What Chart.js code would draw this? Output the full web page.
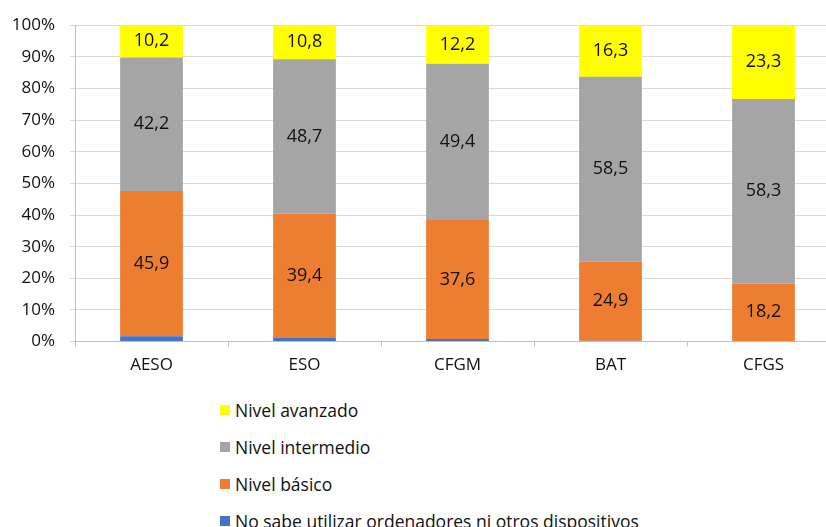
<!DOCTYPE html>
<html lang="es">
<head>
<meta charset="UTF-8">
<title>Nivel de uso de ordenadores</title>
<script src="https://cdn.jsdelivr.net/npm/chart.js@4/dist/chart.umd.min.js"></script>
<style>
  html, body { margin: 0; padding: 0; background: #fff; overflow: hidden; }
  #wrap { position: relative; width: 840px; height: 383px; }
  #legend { position: absolute; left: 220px; top: 400px; font-family: "Open Sans", sans-serif; font-size: 17.5px; color: #111; }
  #legend div { display: flex; align-items: center; height: 20px; margin-bottom: 17px; white-space: nowrap; }
  #legend span.box { display: inline-block; width: 10px; height: 10px; margin-right: 5px; }
</style>
</head>
<body>
<div id="wrap"><canvas id="chart"></canvas></div>
<div id="legend"></div>
<script>
var categories = ['AESO', 'ESO', 'CFGM', 'BAT', 'CFGS'];
var noSabe = [1.7, 1.1, 0.8, 0.3, 0.2];
var basico = [45.9, 39.4, 37.6, 24.9, 18.2];
var intermedio = [42.2, 48.7, 49.4, 58.5, 58.3];
var avanzado = [10.2, 10.8, 12.2, 16.3, 23.3];
var yTicks = [0, 10, 20, 30, 40, 50, 60, 70, 80, 90, 100];

var labelFont = '"Open Sans", sans-serif';

// draws the value inside each bar (except the tiny blue one)
var barLabels = {
  id: 'barLabels',
  afterDatasetsDraw: function(chart) {
    var ctx = chart.ctx;
    ctx.save();
    ctx.font = '18px ' + labelFont;
    ctx.fillStyle = '#111';
    ctx.textAlign = 'center';
    ctx.textBaseline = 'middle';
    chart.data.datasets.forEach(function(ds, i) {
      if (!ds.showLabels) return;
      chart.getDatasetMeta(i).data.forEach(function(bar, j) {
        var y = (bar.y + bar.base) / 2;
        ctx.fillText(ds.data[j].toFixed(1).replace('.', ','), bar.x, y);
      });
    });
    ctx.restore();
  }
};

var chart = new Chart(document.getElementById('chart'), {
  type: 'bar',
  data: {
    labels: categories,
    datasets: [
      { label: 'No sabe utilizar ordenadores ni otros dispositivos', data: noSabe, backgroundColor: '#4472C4', showLabels: false },
      { label: 'Nivel básico', data: basico, backgroundColor: '#ED7D31', showLabels: true },
      { label: 'Nivel intermedio', data: intermedio, backgroundColor: '#A5A5A5', showLabels: true },
      { label: 'Nivel avanzado', data: avanzado, backgroundColor: '#FFFF00', showLabels: true }
    ]
  },
  options: {
    responsive: true,
    maintainAspectRatio: false,
    animation: false,
    layout: { padding: { top: 23, right: 0, left: 0, bottom: 0 } },
    datasets: { bar: { categoryPercentage: 1, barPercentage: 0.41 } },
    plugins: { legend: { display: false }, tooltip: { enabled: false } },
    scales: {
      x: {
        stacked: true,
        offset: true,
        grid: { offset: true, drawOnChartArea: false, tickLength: 5, color: '#bfbfbf' },
        border: { color: '#bfbfbf' },
        ticks: { color: '#111', font: { family: labelFont, size: 17 }, padding: 8 }
      },
      y: {
        stacked: true,
        min: 0,
        max: 100,
        afterFit: function(scale) { scale.width = 75; },
        afterBuildTicks: function(scale) { scale.ticks = yTicks.map(function(v) { return { value: v }; }); },
        grid: { color: '#d9d9d9', tickLength: 5 },
        border: { color: '#bfbfbf' },
        ticks: {
          color: '#111',
          font: { family: labelFont, size: 17 },
          padding: 15,
          callback: function(v) { return v + '%'; }
        }
      }
    }
  },
  plugins: [barLabels]
});

// vertical legend below, in reverse order like the original
var legend = document.getElementById('legend');
chart.data.datasets.slice().reverse().forEach(function(ds) {
  var row = document.createElement('div');
  var box = document.createElement('span');
  box.className = 'box';
  box.style.background = ds.backgroundColor;
  row.appendChild(box);
  row.appendChild(document.createTextNode(ds.label));
  legend.appendChild(row);
});
</script>
</body>
</html>
